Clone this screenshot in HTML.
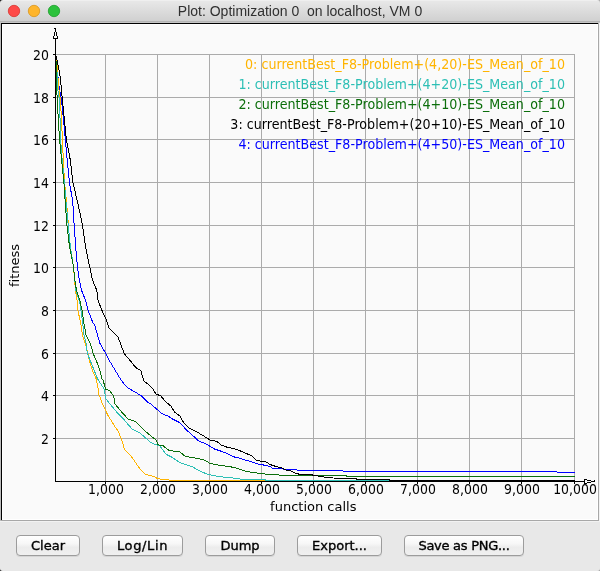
<!DOCTYPE html>
<html><head><meta charset="utf-8"><title>Plot</title>
<style>
html,body{margin:0;padding:0;width:600px;height:571px;overflow:hidden;background:#e8e8e8;}
body{position:relative;}
svg{position:absolute;left:0;top:0;font-variant-ligatures:none;}
.btn{position:absolute;top:535px;height:19px;border:1px solid #9c9c9c;border-radius:4px;
background:linear-gradient(#ffffff 0%,#f7f7f7 40%,#ececec 60%,#f0f0f0 100%);
box-shadow:0 1px 0 rgba(0,0,0,0.08);
font-family:"DejaVu Sans",sans-serif;font-size:13px;line-height:19px;color:#000;-webkit-text-stroke:0.35px #000;text-align:center;box-sizing:content-box;white-space:pre;}
</style></head><body>
<svg width="600" height="571" viewBox="0 0 600 571">
<defs>
<linearGradient id="tb" x1="0" y1="0" x2="0" y2="1">
<stop offset="0" stop-color="#e9e9e9"/><stop offset="1" stop-color="#d0d0d0"/>
</linearGradient>
</defs>
<rect x="0" y="0" width="600" height="571" fill="#e8e8e8"/>
<!-- title bar -->
<rect x="0" y="0" width="600" height="21" fill="url(#tb)"/>
<rect x="0" y="0" width="600" height="1" fill="#efefef"/>
<rect x="0" y="21" width="600" height="1" fill="#b4b4b4"/>
<rect x="0" y="22" width="600" height="1" fill="#c6c6c6"/>
<circle cx="14" cy="11" r="5.7" fill="#fe4a48" stroke="#d8342f" stroke-width="0.8"/>
<circle cx="34" cy="11" r="5.7" fill="#feb52c" stroke="#d9961c" stroke-width="0.8"/>
<circle cx="54" cy="11" r="5.7" fill="#2cc23c" stroke="#1d9e2b" stroke-width="0.8"/>
<text x="300" y="16" text-anchor="middle" font-family="Liberation Sans, sans-serif" font-size="14" fill="#303030" xml:space="preserve">Plot: Optimization 0  on localhost, VM 0</text>
<!-- panel -->
<rect x="0" y="23" width="1" height="498" fill="#bcbcbc"/>
<rect x="1" y="23" width="598" height="498" fill="#a8a8a8"/>
<rect x="1" y="23" width="597" height="497" fill="#000"/>
<rect x="2" y="24" width="596" height="496" fill="#ffffff"/>
<rect x="2" y="24" width="595" height="495" fill="#fafafa"/>
<rect x="2" y="24" width="595" height="1" fill="#ffffff"/>
<rect x="2" y="24" width="1" height="495" fill="#ffffff"/>
<rect x="1" y="520" width="598" height="1" fill="#a8a8a8"/>
<rect x="0" y="521" width="600" height="1" fill="#f2f2f2"/>
<rect x="599" y="23" width="1" height="498" fill="#f2f2f2"/>
<g fill="#ababab" shape-rendering="crispEdges">
<rect x="105" y="54" width="1" height="427"/>
<rect x="157" y="54" width="1" height="427"/>
<rect x="209" y="54" width="1" height="427"/>
<rect x="261" y="54" width="1" height="427"/>
<rect x="313" y="54" width="1" height="427"/>
<rect x="365" y="54" width="1" height="427"/>
<rect x="417" y="54" width="1" height="427"/>
<rect x="469" y="54" width="1" height="427"/>
<rect x="521" y="54" width="1" height="427"/>
<rect x="56" y="54" width="519" height="1"/>
<rect x="56" y="97" width="519" height="1"/>
<rect x="56" y="139" width="519" height="1"/>
<rect x="56" y="182" width="519" height="1"/>
<rect x="56" y="225" width="519" height="1"/>
<rect x="56" y="267" width="519" height="1"/>
<rect x="56" y="310" width="519" height="1"/>
<rect x="56" y="353" width="519" height="1"/>
<rect x="56" y="395" width="519" height="1"/>
<rect x="56" y="438" width="519" height="1"/>
<rect x="574" y="54" width="1" height="427"/>
</g>
<g font-family="DejaVu Sans, sans-serif" font-size="12.7" xml:space="preserve">
<text x="565" y="69" fill="#ffb400" text-anchor="end" transform="matrix(1,0,0,1.1,0,-6.90)">0: currentBest_F8-Problem+(4,20)-ES_Mean_of_10</text>
<text x="565" y="89" fill="#2dbfb5" text-anchor="end" transform="matrix(1,0,0,1.1,0,-8.90)">1: currentBest_F8-Problem+(4+20)-ES_Mean_of_10</text>
<text x="565" y="109" fill="#0b6e0b" text-anchor="end" transform="matrix(1,0,0,1.1,0,-10.90)">2: currentBest_F8-Problem+(4+10)-ES_Mean_of_10</text>
<text x="565" y="129" fill="#000000" text-anchor="end" transform="matrix(1,0,0,1.1,0,-12.90)">3: currentBest_F8-Problem+(20+10)-ES_Mean_of_10</text>
<text x="565" y="149" fill="#0000ff" text-anchor="end" transform="matrix(1,0,0,1.1,0,-14.90)">4: currentBest_F8-Problem+(4+50)-ES_Mean_of_10</text>
</g>
<g fill="none" stroke-width="1" shape-rendering="crispEdges" stroke-linejoin="round">
<polyline stroke="#0000ff" points="55.5,54.5 59.4,89 61.4,99.5 63.7,121 65.3,139.4 67.2,160 69.4,182 72.8,202 73.7,220 74.2,225.3 75.7,247.3 77.5,267.3 79.3,280 81.6,290.5 85.8,301 88.1,310.5 92.6,322 95,326 97.5,335 100.1,343.8 105.8,353.4 109.8,361.3 115,370 120.3,378.8 124.7,385 127,387.3 135,392 141.7,396 148.3,402.7 150,403.2 156,408.5 162,413.7 168,416 172.5,419 180,422.7 186,429.5 193.5,436.2 198,440.7 205.5,443.7 209.5,446 214.5,449 220,450.8 225,452.7 235,457.2 240,458.3 245.5,460.2 248.3,460.8 256.7,463.7 265,465.3 270,466.5 272.7,468.5 283.3,468.7 284,469.5 296.7,469.5 297.3,470.5 340,470.5 345.8,471.5 557,471.5 557,472.5 574.5,472.5"/>
<polyline stroke="#ffb400" points="55.5,54.5 56.8,62.8 57.9,75.9 58.8,89 60.4,100 61.6,121 62.4,139.4 63.3,160 64.5,182 66.5,202 68,220 68.3,225.3 70.4,247.3 73.6,267.3 74.6,280 75.5,290.5 77.1,301 77.9,310.5 80.5,322 82.5,335 85.3,343.8 87.9,353.4 89.6,361.3 92.3,370 96.2,378.8 97.5,385 99,394.7 103,405.3 108.3,416 115,426.7 117.5,430 119,433.3 121,438 123,444 124.5,449.5 128,453 130,455 134,460 137,465 141,470 145,474 150,475.5 155,477 157,478.5 161,479.2 169,480 175,480.5 574.5,480.5"/>
<polyline stroke="#2dbfb5" points="55.5,54.5 57.3,75.9 57.7,89 59.5,100 60.1,121 60.6,139.4 62.2,160 64.3,182 66,202 67.8,220 68.2,225 70.4,247.3 73.6,267.3 74.8,280 76,290.5 79.5,301 81,310.5 82.6,322 83.9,335 86.1,343.8 87.4,353.4 90.5,361.3 94,370 97.5,378.8 101.5,385 104.3,389.3 105.7,398.7 112.3,406.7 119,414.7 124.3,420 132.3,429.3 140.3,433.3 151,442.7 157.7,445.3 160,446 166,454.2 172,457.2 179.5,462.5 193,467 199,470.7 208,474.5 220,476.7 235,478.2 243,479.5 265,479.5 266,480.5 574.5,480.5"/>
<polyline stroke="#0b6e0b" points="55.5,54.5 56.2,62.8 56.2,75.9 56.8,89 57.2,100 58.4,121 59.5,139.4 61.6,160 63.9,182 65.2,202 66.5,220 66.9,225.3 69.6,247.3 73.6,267.3 74.8,280 76.5,290.5 80,301 82.1,310.5 83.7,322 86.1,335 90.5,343.8 93.1,353.4 96.6,361.3 99.7,370 101.9,378.8 103,380 105.7,389.3 109.7,390.7 113.7,396 115,404 121.7,412 128.3,419.3 135,421.3 143,429.3 151,436 156.3,440 157.7,444.7 163,445.7 169,450.5 179.5,451.7 185.5,456.5 199,458.7 205,460.2 209.5,463.2 220,465.5 227.5,466.2 235,467.7 244,470.7 250,472 260,473.5 270,474.5 278.5,474.5 279.5,475.5 346,475.5 347,476.5 574.5,476.5"/>
<polyline stroke="#000000" points="55.5,54.5 57.7,62.8 60,75.9 61.4,89 62.3,99.5 64.5,121 66.4,139.4 70.3,160 72.8,182 77.5,202 81.5,220 82.5,225.3 85.6,247.3 89.8,267.3 92.5,280 96.8,290.5 98.2,301 102,310.5 106,318.9 109.2,328.4 112.4,331.5 117.9,337.1 120.2,342.6 124.2,353.6 129.7,360 136,367.8 140.7,370.2 143.9,381.2 148.6,384.4 150,386 153,389 156,394.2 160.5,395.7 165,401 171,406.2 174.7,412.2 180,416 183.7,422.7 189,428 196.5,431.7 204,436.2 210,440 217,441.5 221.5,445.2 228,447.5 232,448.2 237,449.7 241,451.2 245,453 251.7,455.8 256.7,460.8 265,461.3 270,464.5 276,466.5 281.7,468 286,470 290.7,471 295.3,473 300,474.5 310,474.5 315,475.5 326.7,477.5 340,478.5 356,478.5 357,479.5 389,479.5 390,480.5 574.5,480.5"/>
</g>
<g fill="#000" shape-rendering="crispEdges">
<rect x="55" y="38" width="1" height="444"/>
<rect x="55" y="481" width="530" height="1"/>
<rect x="53" y="54" width="2" height="1"/>
<rect x="53" y="97" width="2" height="1"/>
<rect x="53" y="139" width="2" height="1"/>
<rect x="53" y="182" width="2" height="1"/>
<rect x="53" y="225" width="2" height="1"/>
<rect x="53" y="267" width="2" height="1"/>
<rect x="53" y="310" width="2" height="1"/>
<rect x="53" y="353" width="2" height="1"/>
<rect x="53" y="395" width="2" height="1"/>
<rect x="53" y="438" width="2" height="1"/>
<rect x="105" y="482" width="1" height="2"/>
<rect x="157" y="482" width="1" height="2"/>
<rect x="209" y="482" width="1" height="2"/>
<rect x="261" y="482" width="1" height="2"/>
<rect x="313" y="482" width="1" height="2"/>
<rect x="365" y="482" width="1" height="2"/>
<rect x="417" y="482" width="1" height="2"/>
<rect x="469" y="482" width="1" height="2"/>
<rect x="521" y="482" width="1" height="2"/>
<rect x="574" y="482" width="1" height="2"/>
<!-- y arrow -->
<rect x="54" y="28" width="2" height="1"/>
<rect x="55" y="29" width="1" height="3"/>
<rect x="54" y="32" width="1" height="4"/><rect x="56" y="32" width="1" height="4"/>
<rect x="53" y="36" width="1" height="3"/><rect x="57" y="36" width="1" height="3"/>
<rect x="53" y="38" width="5" height="1"/>
<!-- x arrow -->
<rect x="594" y="480" width="1" height="2"/>
<rect x="591" y="481" width="4" height="1"/>
<rect x="587" y="480" width="4" height="1"/><rect x="587" y="482" width="4" height="1"/>
<rect x="584" y="479" width="3" height="1"/><rect x="584" y="483" width="3" height="1"/>
<rect x="584" y="479" width="1" height="5"/>
</g>
<g font-family="DejaVu Sans, sans-serif" font-size="12.5" fill="#000">
<text x="49" y="60" text-anchor="end" transform="matrix(1,0,0,1.1,0,-6.00)">20</text>
<text x="49" y="103" text-anchor="end" transform="matrix(1,0,0,1.1,0,-10.30)">18</text>
<text x="49" y="145" text-anchor="end" transform="matrix(1,0,0,1.1,0,-14.50)">16</text>
<text x="49" y="188" text-anchor="end" transform="matrix(1,0,0,1.1,0,-18.80)">14</text>
<text x="49" y="231" text-anchor="end" transform="matrix(1,0,0,1.1,0,-23.10)">12</text>
<text x="49" y="273" text-anchor="end" transform="matrix(1,0,0,1.1,0,-27.30)">10</text>
<text x="49" y="316" text-anchor="end" transform="matrix(1,0,0,1.1,0,-31.60)">8</text>
<text x="49" y="359" text-anchor="end" transform="matrix(1,0,0,1.1,0,-35.90)">6</text>
<text x="49" y="401" text-anchor="end" transform="matrix(1,0,0,1.1,0,-40.10)">4</text>
<text x="49" y="444" text-anchor="end" transform="matrix(1,0,0,1.1,0,-44.40)">2</text>
<text x="106" y="494" text-anchor="middle" transform="matrix(1,0,0,1.1,0,-49.4)">1,000</text>
<text x="158" y="494" text-anchor="middle" transform="matrix(1,0,0,1.1,0,-49.4)">2,000</text>
<text x="210" y="494" text-anchor="middle" transform="matrix(1,0,0,1.1,0,-49.4)">3,000</text>
<text x="262" y="494" text-anchor="middle" transform="matrix(1,0,0,1.1,0,-49.4)">4,000</text>
<text x="314" y="494" text-anchor="middle" transform="matrix(1,0,0,1.1,0,-49.4)">5,000</text>
<text x="366" y="494" text-anchor="middle" transform="matrix(1,0,0,1.1,0,-49.4)">6,000</text>
<text x="418" y="494" text-anchor="middle" transform="matrix(1,0,0,1.1,0,-49.4)">7,000</text>
<text x="470" y="494" text-anchor="middle" transform="matrix(1,0,0,1.1,0,-49.4)">8,000</text>
<text x="522" y="494" text-anchor="middle" transform="matrix(1,0,0,1.1,0,-49.4)">9,000</text>
<text x="575" y="494" text-anchor="middle" transform="matrix(1,0,0,1.1,0,-49.4)">10,000</text>
</g>
<text x="313.3" y="511" text-anchor="middle" font-family="DejaVu Sans, sans-serif" font-size="13" fill="#000">function calls</text>
<text transform="translate(19,265.5) rotate(-90)" x="0" y="0" text-anchor="middle" font-family="DejaVu Sans, sans-serif" font-size="13" fill="#000">fitness</text>
<!-- window corners -->
<path d="M0,0 L3,0 Q0,0 0,3 Z" fill="#111"/>
<path d="M600,0 L597,0 Q600,0 600,3 Z" fill="#aaa"/>
<path d="M0,571 L0,568.5 Q0,571 2.5,571 Z" fill="#111"/>
<path d="M600,571 L600,568.5 Q600,571 597.5,571 Z" fill="#999"/>
</svg>
<div class="btn" style="left:16px;width:62px;">Clear</div>
<div class="btn" style="left:102px;width:79px;letter-spacing:0.65px;">Log/Lin</div>
<div class="btn" style="left:205px;width:68px;">Dump</div>
<div class="btn" style="left:297px;width:83px;">Export...</div>
<div class="btn" style="left:404px;width:118px;letter-spacing:-0.27px;">Save as PNG...</div>
</body></html>
